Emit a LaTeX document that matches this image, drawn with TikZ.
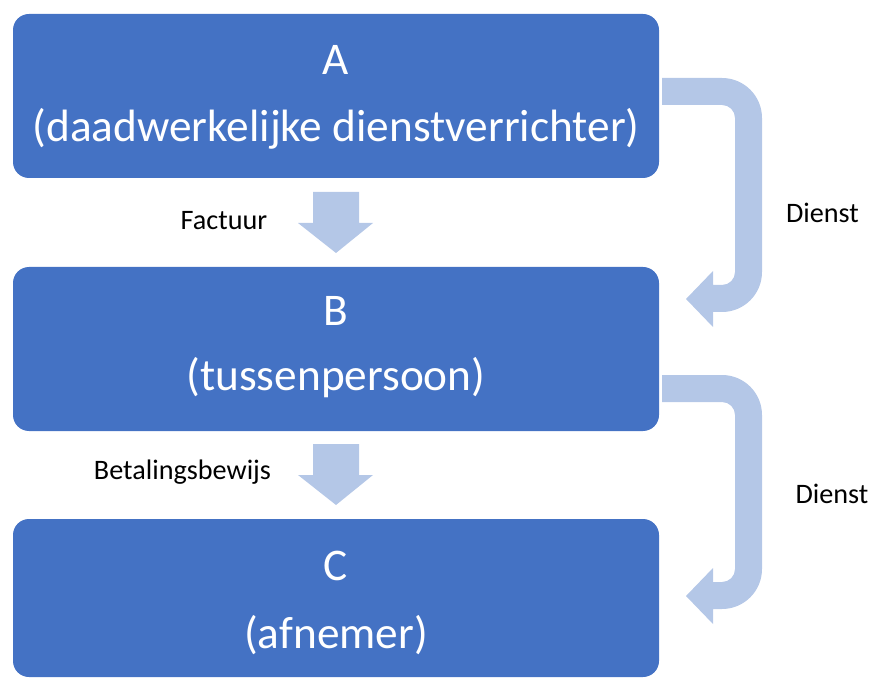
\documentclass[tikz,border=0pt]{standalone}
\usepackage{fontspec}
\setmainfont{Carlito}
\definecolor{boxblue}{HTML}{4472C4}
\definecolor{arrowblue}{HTML}{B4C7E7}
\begin{document}
\begin{tikzpicture}[x=1pt,y=1pt,
  bigbox/.style={fill=boxblue, rounded corners=16pt, inner sep=0pt, minimum width=646pt},
  bigtext/.style={text=white, anchor=base, inner sep=0pt, font=\fontsize{45.3}{54}\selectfont},
  smalltext/.style={text=black, anchor=base, inner sep=0pt, font=\fontsize{28.2}{34}\selectfont},
  blockarrow/.style={fill=arrowblue}]
\useasboundingbox (0,0) rectangle (872,678);
% boxes
\node[bigbox, minimum height=164pt] (boxA) at (336,582) {};
\node[bigbox, minimum height=164pt] (boxB) at (336,329) {};
\node[bigbox, minimum height=158pt] (boxC) at (336,80) {};
% box texts
\node[bigtext] (tA1) at (336,603) {A};
\node[bigtext] (tA2) at (336,536) {(daadwerkelijke dienstverrichter)};
\node[bigtext] (tB1) at (336,352) {B};
\node[bigtext] (tB2) at (336,288) {(tussenpersoon)};
\node[bigtext] (tC1) at (336,98) {C};
\node[bigtext] (tC2) at (336,30) {(afnemer)};
% down arrows
\foreach \dy in {0,-252}{
  \begin{scope}[yshift=\dy]
    \fill[blockarrow] (313,486) -- (359,486) -- (359,455) -- (373,455) -- (336,425)
      -- (298,455) -- (313,455) -- cycle;
  \end{scope}
}
% bent arrows
\foreach \dy in {0,-297}{
  \begin{scope}[yshift=\dy]
    \fill[blockarrow] (662,600) -- (722,600) arc[start angle=90,end angle=0,radius=40]
      -- (762,406) arc[start angle=0,end angle=-90,radius=40]
      -- (713,366) -- (713,351) -- (686,379) -- (713,407) -- (713,393) -- (722,393)
      arc[start angle=-90,end angle=0,radius=13]
      -- (735,560) arc[start angle=0,end angle=90,radius=13]
      -- (662,573) -- cycle;
  \end{scope}
}
% labels
\node[smalltext] (lF) at (224,448) {Factuur};
\node[smalltext] (lB) at (182.5,199) {Betalingsbewijs};
\node[smalltext] (lD1) at (822.5,455) {Dienst};
\node[smalltext] (lD2) at (832,175) {Dienst};
\end{tikzpicture}
\end{document}
